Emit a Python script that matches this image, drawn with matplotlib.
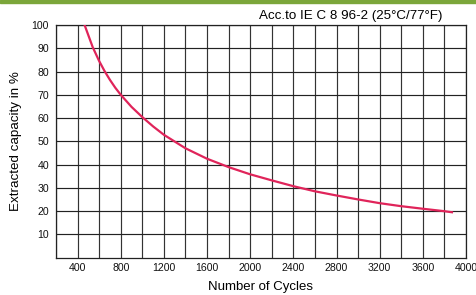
import matplotlib
matplotlib.use('Agg')
import matplotlib.pyplot as plt
import numpy as np

# cycles vs extracted capacity
cycles = [465, 540, 600, 650, 700, 750, 800, 900, 1000, 1100, 1200, 1400, 1600,
          1800, 2000, 2200, 2400, 2600, 2800, 3000, 3200, 3400, 3600, 3790, 3870]
capacity = [100.0, 90.5, 84.5, 80.2, 76.4, 73.0, 70.0, 64.8, 60.4, 56.4, 52.8, 47.0, 42.5,
            38.9, 35.8, 33.2, 30.7, 28.5, 26.7, 25.0, 23.4, 22.1, 21.0, 20.0, 19.5]

x_ticks = [400, 800, 1200, 1600, 2000, 2400, 2800, 3200, 3600, 4000]
y_ticks = [10, 20, 30, 40, 50, 60, 70, 80, 90, 100]

title_text = "Acc.to IE C 8 96-2 (25°C/77°F)"
x_label = "Number of Cycles"
y_label = "Extracted capacity in %"

plt.rcParams['font.family'] = ['Liberation Sans', 'DejaVu Sans']

fig = plt.figure(figsize=(4.77, 2.95), dpi=100, facecolor='white')
ax = fig.add_axes([56/477, 1 - 257.6/295, (466 - 56)/477, (257.6 - 25)/295])

# green bar across the top
fig.patches.append(matplotlib.patches.Rectangle((0, 1 - 2.5/295), 1, 2.5/295,
                   transform=fig.transFigure, color='#7ba63a', zorder=5))

ax.set_xlim(200, 4000)
ax.set_ylim(0, 100)
ax.set_xticks(np.arange(200, 4001, 200), minor=True)
ax.set_xticks(x_ticks)
ax.set_yticks(y_ticks)
ax.grid(True, which='both', axis='x', color='#333333', linewidth=0.85)
ax.grid(True, which='major', axis='y', color='#222222', linewidth=0.85)
ax.set_axisbelow(True)

ax.plot(cycles, capacity, color='#e0245a', linewidth=1.6, zorder=3)

for s in ax.spines.values():
    s.set_color('#222222')
    s.set_linewidth(0.9)

ax.tick_params(axis='both', which='both', length=0, labelsize=7.6, colors='#111111')
ax.tick_params(axis='x', pad=4)
ax.tick_params(axis='y', pad=5)

ax.set_xlabel(x_label, fontsize=9.5, labelpad=6)
ax.set_ylabel(y_label, fontsize=9.6, labelpad=7)
fig.text(443/477, 1 - 16/295, title_text, fontsize=9.6, ha='right', va='center')

fig.savefig('out.png', dpi=100, facecolor='white')
